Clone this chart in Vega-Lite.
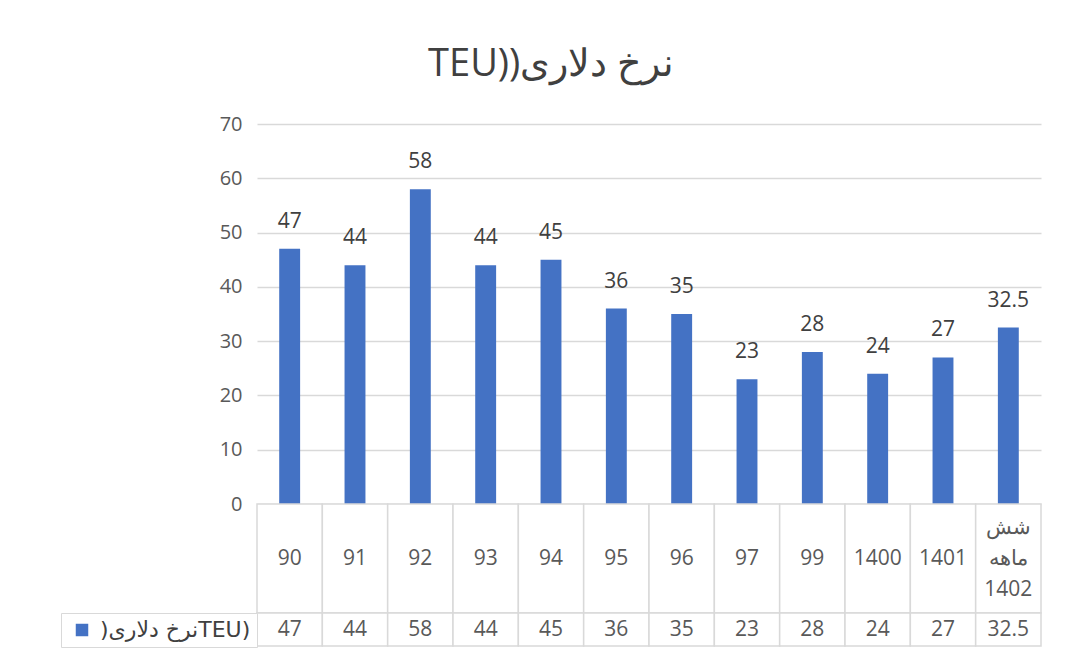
{
  "$schema": "https://vega.github.io/schema/vega-lite/v6.json",
  "background": "white",
  "padding": {"left": 60, "top": 46, "right": 40, "bottom": 12},
  "title": {
    "text": "TEU))نرخ دلاری",
    "fontSize": 38,
    "font": "Open Sans",
    "fontWeight": "normal",
    "color": "#404040",
    "anchor": "middle",
    "offset": 30
  },
  "datasets": {
    "rates": [
      {"period": "90", "rate": 47},
      {"period": "91", "rate": 44},
      {"period": "92", "rate": 58},
      {"period": "93", "rate": 44},
      {"period": "94", "rate": 45},
      {"period": "95", "rate": 36},
      {"period": "96", "rate": 35},
      {"period": "97", "rate": 23},
      {"period": "99", "rate": 28},
      {"period": "1400", "rate": 24},
      {"period": "1401", "rate": 27},
      {"period": "شش ماهه 1402", "rate": 32.5}
    ]
  },
  "data": {"name": "rates"},
  "spacing": 0,
  "bounds": "flush",
  "resolve": {"scale": {"color": "independent"}, "legend": {"color": "independent"}},
  "vconcat": [
    {
      "width": 784,
      "height": 380,
      "encoding": {
        "x": {"field": "period", "type": "nominal", "sort": null, "scale": {"paddingInner": 0.68, "paddingOuter": 0.34}, "axis": null},
        "y": {
          "field": "rate",
          "type": "quantitative",
          "scale": {"domain": [0, 70]},
          "axis": {
            "values": [0, 10, 20, 30, 40, 50, 60, 70],
            "title": null,
            "domain": false,
            "ticks": false,
            "grid": true,
            "gridColor": "#d9d9d9",
            "gridWidth": 1.5,
            "labelFontSize": 20,
            "labelColor": "#595959",
            "labelPadding": 15,
            "labelFont": "Open Sans"
          }
        }
      },
      "layer": [
        {"mark": {"type": "bar", "color": "#4472C4"}},
        {
          "mark": {"type": "text", "baseline": "alphabetic", "dy": -21, "fontSize": 21, "color": "#404040", "font": "Open Sans"},
          "encoding": {"text": {"field": "rate", "type": "quantitative"}}
        }
      ]
    },
    {
      "width": 784,
      "height": 109,
      "encoding": {
        "x": {"field": "period", "type": "nominal", "sort": null, "scale": {"paddingInner": 0, "paddingOuter": 0}, "axis": null},
        "y": {"datum": "cat", "type": "nominal", "scale": {"paddingInner": 0, "paddingOuter": 0}, "axis": null}
      },
      "layer": [
        {"mark": {"type": "rect", "fill": "white", "stroke": "#d9d9d9", "strokeWidth": 1.5}},
        {
          "transform": [{"filter": "indexof(datum.period, ' ') < 0"}],
          "mark": {"type": "text", "fontSize": 21, "color": "#595959", "font": "Open Sans"},
          "encoding": {"text": {"field": "period", "type": "nominal"}}
        },
        {
          "transform": [{"filter": "indexof(datum.period, ' ') >= 0"}],
          "mark": {"type": "text", "fontSize": 21, "color": "#595959", "font": "Open Sans", "lineBreak": " ", "lineHeight": 31, "dy": -31},
          "encoding": {"text": {"field": "period", "type": "nominal"}}
        }
      ]
    },
    {
      "width": 784,
      "height": 33,
      "encoding": {
        "x": {"field": "period", "type": "nominal", "sort": null, "scale": {"paddingInner": 0, "paddingOuter": 0}, "axis": null},
        "y": {"datum": "val", "type": "nominal", "scale": {"paddingInner": 0, "paddingOuter": 0}, "axis": null}
      },
      "layer": [
        {"mark": {"type": "rect", "fill": "white", "stroke": "#d9d9d9", "strokeWidth": 1.5}},
        {
          "mark": {"type": "text", "fontSize": 21, "color": "#595959", "font": "Open Sans"},
          "encoding": {"text": {"field": "rate", "type": "quantitative"}}
        },
        {
          "mark": {"type": "square", "opacity": 0},
          "encoding": {
            "color": {
              "datum": ")نرخ دلاریTEU)",
              "type": "nominal",
              "scale": {"range": ["#4472C4"]},
              "legend": {
                "orient": "left",
                "offset": 0,
                "title": null,
                "strokeColor": "#d9d9d9",
                "fillColor": "white",
                "padding": 6,
                "symbolOffset": 4,
                "symbolType": "square",
                "symbolSize": 156,
                "symbolOpacity": 1,
                "symbolStrokeWidth": 0,
                "labelFontSize": 22,
                "labelFont": "DejaVu Sans",
                "labelColor": "#404040",
                "labelOffset": 7,
                "labelLimit": 400
              }
            }
          }
        }
      ]
    }
  ],
  "config": {"view": {"stroke": null}, "font": "Open Sans"}
}
